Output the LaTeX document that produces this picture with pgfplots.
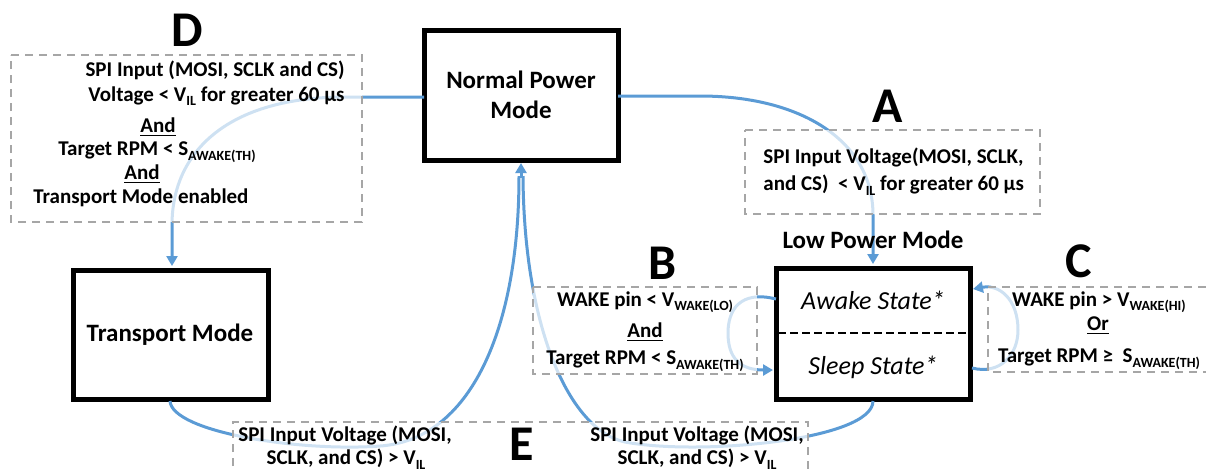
\documentclass[border=0pt]{standalone}
\usepackage{fontspec}
\setmainfont{Carlito}
\usepackage{pgfplots}
\pgfplotsset{compat=1.18}
\usetikzlibrary{arrows.meta}
\definecolor{flow}{HTML}{5B9BD5}
\definecolor{dashgray}{HTML}{A6A6A6}
\newcommand{\sub}[1]{\raisebox{-0.45ex}{\fontsize{7}{8}\selectfont #1}}
\begin{document}
\begin{tikzpicture}
\begin{axis}[hide axis, scale only axis, width=603pt, height=235.5pt,
  xmin=0, xmax=1206, ymin=0, ymax=471, y dir=reverse, clip=false]
% state boxes
\addplot[draw=black, line width=2.5pt, fill=white] coordinates {(424,30) (618,30) (618,160) (424,160)} -- cycle;
\addplot[draw=black, line width=2.5pt, fill=white] coordinates {(73,270) (268,270) (268,399) (73,399)} -- cycle;
\addplot[draw=black, line width=2.5pt, fill=white] coordinates {(776,268) (970,268) (970,399) (776,399)} -- cycle;
\addplot[draw=black, line width=0.6pt, dash pattern=on 4pt off 2pt] coordinates {(778,333) (968,333)};
% transitions
\tikzset{flowline/.style={draw=flow, line width=1.5pt}, tip/.style={-{Triangle[length=5pt,width=5.5pt]}}}
\draw[flowline, tip] (424,97) -- (345,97) .. controls (230,97) and (172,150) .. (172,225) -- (172,266);
\draw[flowline, tip] (618,96) -- (700,96) .. controls (800,96) and (873,140) .. (873,215) -- (873,264);
\draw[flowline] (170,401) .. controls (172,432) and (300,452) .. (380,446) .. controls (470,440) and (519,330) .. (519,176);
\draw[flowline] (873,401) .. controls (873,440) and (700,456) .. (625,442) .. controls (570,430) and (524,330) .. (523,176);
\draw[flowline, tip] (521,178) -- (521,163);
\draw[flowline, tip] (776,299) .. controls (740,290) and (728,310) .. (728,333) .. controls (728,358) and (740,370) .. (773,370);
\draw[flowline, tip] (972,368) .. controls (1000,375) and (1018,355) .. (1018,330) .. controls (1018,300) and (1000,284) .. (973,289);
% condition boxes
\tikzset{cond box/.style={draw=dashgray, line width=0.8pt, dash pattern=on 4pt off 3pt, fill=white, fill opacity=0.7}}
\addplot[cond box] coordinates {(11,55) (362,55) (362,222) (11,222)} -- cycle;
\addplot[cond box] coordinates {(745,130) (1040,130) (1040,214) (745,214)} -- cycle;
\addplot[cond box] coordinates {(533,287) (757,287) (757,374) (533,374)} -- cycle;
\addplot[cond box] coordinates {(1206,287) (988,287) (988,372) (1206,372)};
\addplot[cond box] coordinates {(233,480) (233,422) (808,422) (808,480)};
% text
\tikzset{cond/.style={font=\fontsize{10.5}{12.6}\selectfont\bfseries, inner sep=0pt},
  state/.style={font=\fontsize{12.5}{15}\selectfont\bfseries, inner sep=0pt},
  big/.style={font=\fontsize{25}{25}\selectfont\bfseries, inner sep=0pt, anchor=north}}
\node[state] at (521,80) {Normal Power};
\node[state] at (521,110) {Mode};
\node[state] at (170,335) {Transport Mode};
\node[state] at (873,240) {Low Power Mode};
\node[font=\fontsize{13}{15}\selectfont\itshape, inner sep=0pt] at (873,300) {Awake State*};
\node[font=\fontsize{13}{15}\selectfont\itshape, inner sep=0pt] at (873,367) {Sleep State*};
\node[big] at (187,14) {D};
\node[big] at (888,90) {A};
\node[big] at (663,247) {B};
\node[big] at (1079,244) {C};
\node[big] at (522,428) {E};
% D
\node[cond, anchor=east] at (345,70) {SPI Input (MOSI, SCLK and CS)};
\node[cond, anchor=east] at (345,96) {Voltage < V\sub{IL} for greater 60 µs};
\node[cond] at (158,127) {\underline{And}};
\node[cond, anchor=west] at (58,152) {Target RPM < S\sub{AWAKE(TH)}};
\node[cond] at (142,174) {\underline{And}};
\node[cond, anchor=west] at (33,198) {Transport Mode enabled};
% A
\node[cond, anchor=west] at (763,157) {SPI Input Voltage(MOSI, SCLK,};
\node[cond, anchor=west] at (763,185) {and CS)\ \ < V\sub{IL} for greater 60 µs};
% B
\node[cond] at (645,302) {WAKE pin < V\sub{WAKE(LO)}};
\node[cond] at (645,332) {\underline{And}};
\node[cond] at (645,361) {Target RPM < S\sub{AWAKE(TH)}};
% C
\node[cond] at (1099,302) {WAKE pin > V\sub{WAKE(HI)}};
\node[cond] at (1098,326) {\underline{Or}};
\node[cond] at (1099,359) {Target RPM ≥\ \ S\sub{AWAKE(TH)}};
% E
\node[cond] at (345,435) {SPI Input Voltage (MOSI,};
\node[cond] at (346,459) {SCLK, and CS) > V\sub{IL}};
\node[cond] at (697,435) {SPI Input Voltage (MOSI,};
\node[cond] at (697,459) {SCLK, and CS) > V\sub{IL}};
\end{axis}
\pgfresetboundingbox
\path (current axis.south west) rectangle (current axis.north east);
\end{tikzpicture}
\end{document}
